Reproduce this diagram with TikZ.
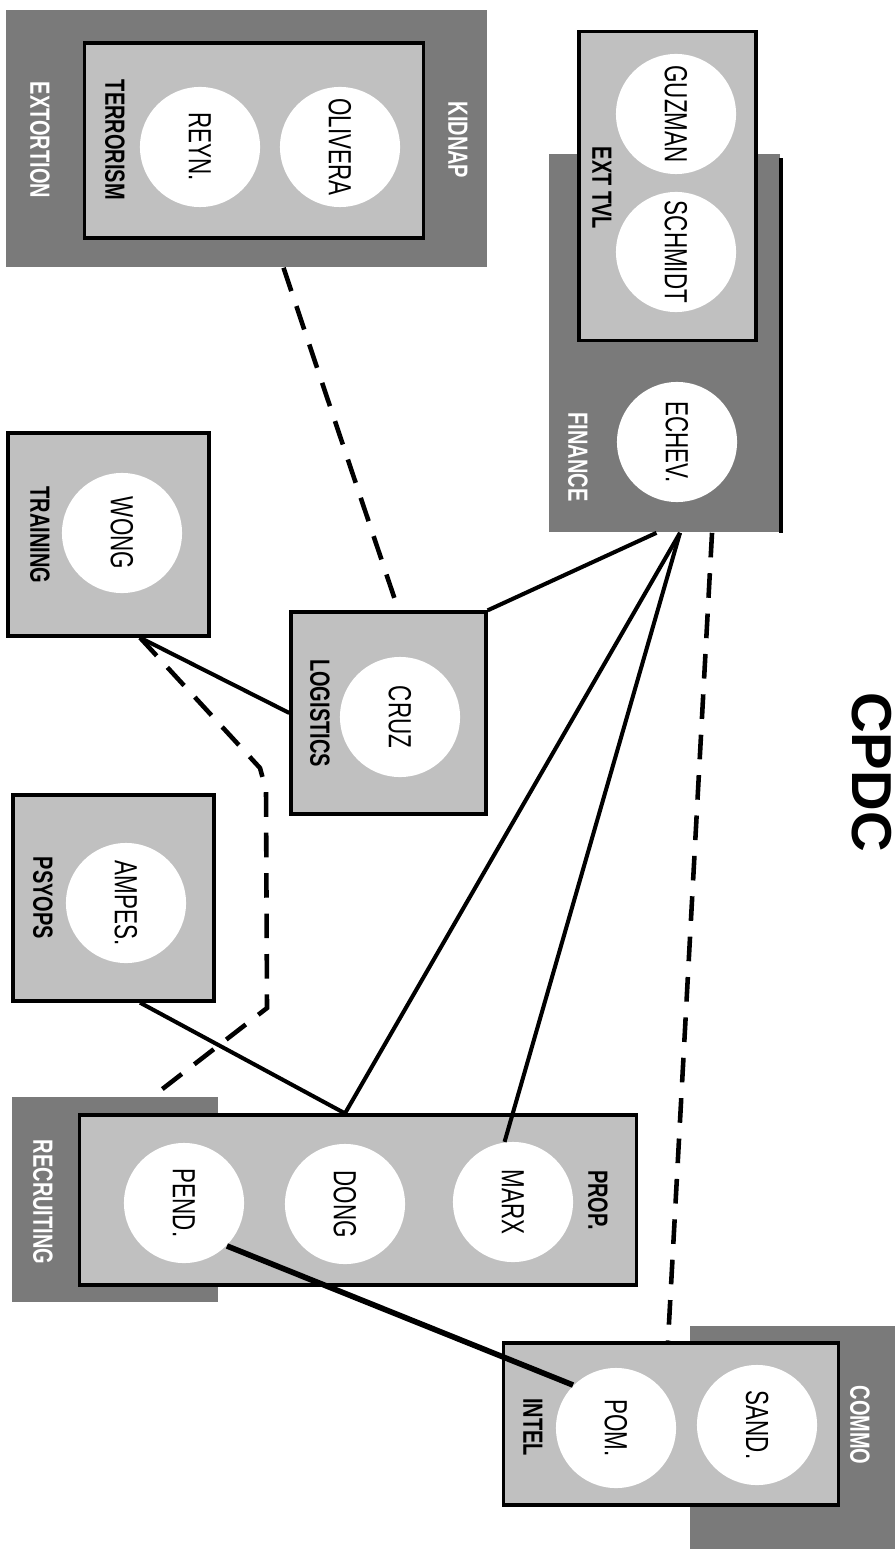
\documentclass[tikz,border=0pt]{standalone}
\usepackage{fontspec}
\setmainfont{Liberation Sans}
\newfontfamily\namefont[FakeStretch=0.7]{Liberation Sans}
\newfontfamily\deptfont[FakeStretch=0.72]{Liberation Sans}
\usepackage{tikz}
\definecolor{darkcell}{RGB}{122,122,122}
\definecolor{lightcell}{RGB}{192,192,192}
\tikzset{
	outerbox/.style={rectangle, fill=darkcell, draw=none, inner sep=0pt},
	innerbox/.style={rectangle, fill=lightcell, draw=black, line width=0.9pt, inner sep=0pt},
	person/.style={circle, fill=white, minimum size=1.2cm, inner sep=0pt, font=\namefont\fontsize{9.1}{10}\selectfont},
	deptname/.style={rotate=-90, inner sep=0pt, font=\deptfont\bfseries\fontsize{7.9}{9}\selectfont},
	deptwhite/.style={deptname, text=white},
	solidlink/.style={line width=1.15pt},
	dashlink/.style={line width=1.3pt, dash pattern=on 7pt off 4.5pt}
}
\newcommand{\dn}[1]{\rotatebox{-90}{#1}}
\begin{document}
\begin{tikzpicture}[x=0.01cm,y=-0.01cm]
			\useasboundingbox (0,0) rectangle (895,1549);
			\node[outerbox, minimum width=4.81cm, minimum height=2.57cm] (kidnap) at (246.5,138.5) {};
			\node[outerbox, minimum width=2.31cm, minimum height=3.78cm] (finance) at (664.5,343) {};
			\node[outerbox, minimum width=2.06cm, minimum height=2.05cm] (recruit) at (115,1199.5) {};
			\node[outerbox, minimum width=2.05cm, minimum height=2.23cm] (commo) at (792.5,1437.5) {};
			\draw[line width=1pt] ([yshift=-0.05cm]finance.north east) -- (finance.south east);
			
			\node[innerbox, minimum width=3.38cm, minimum height=1.95cm] (terror) at (254,140.5) {};
			\node[innerbox, minimum width=1.77cm, minimum height=3.08cm] (exttvl) at (667.5,186) {};
			\node[innerbox, minimum width=1.95cm, minimum height=2.02cm] (logist) at (388.5,713) {};
			\node[innerbox, minimum width=2.01cm, minimum height=2.03cm] (train) at (108.5,534.5) {};
			\node[innerbox, minimum width=2.01cm, minimum height=2.06cm] (psyops) at (113.5,898) {};
			\node[innerbox, minimum width=5.56cm, minimum height=1.70cm] (prop) at (358,1200) {};
			\node[innerbox, minimum width=3.34cm, minimum height=1.62cm] (intel) at (671,1424) {};
			
			\node[person] (reyn) at (200,147) {\dn{REYN.}};
			\node[person] (olivera) at (340,147) {\dn{OLIVERA}};
			\node[person] (guzman) at (676,114) {\dn{GUZMAN}};
			\node[person] (schmidt) at (676,252) {\dn{SCHMIDT}};
			\node[person] (echev) at (677,442) {\dn{ECHEV.}};
			\node[person] (cruz) at (400,717) {\dn{CRUZ}};
			\node[person] (wong) at (122,533) {\dn{WONG}};
			\node[person] (ampes) at (126,903) {\dn{AMPES.}};
			\node[person] (pend) at (184,1203) {\dn{PEND.}};
			\node[person] (dong) at (345,1204) {\dn{DONG}};
			\node[person] (marx) at (513,1202) {\dn{MARX}};
			\node[person] (pom) at (616,1428) {\dn{POM.}};
			\node[person] (sand) at (757,1425) {\dn{SAND.}};
			
			\node[deptwhite] (l-extort) at (40,140) {EXTORTION};
			\node[deptwhite] (l-kidnap) at (458,140) {KIDNAP};
			\node[deptname] (l-terror) at (115,140) {TERRORISM};
			\node[deptname] (l-exttvl) at (602,188) {EXT TVL};
			\node[deptwhite] (l-finance) at (578,457) {FINANCE};
			\node[deptname] (l-logist) at (320,713) {LOGISTICS};
			\node[deptname] (l-train) at (40,535) {TRAINING};
			\node[deptname] (l-psyops) at (43,898) {PSYOPS};
			\node[deptwhite] (l-recruit) at (43,1202) {RECRUITING};
			\node[deptname] (l-prop) at (598,1200) {PROP.};
			\node[deptname] (l-intel) at (533,1427) {INTEL};
			\node[deptwhite] (l-commo) at (860,1425) {COMMO};
			\node[rotate=-90, inner sep=0pt, font=\bfseries\fontsize{16}{18}\selectfont] (title) at (872,772) {CPDC};
			
			\coordinate (bendA) at (260,768);
			\coordinate (bendB) at (266,790);
			\coordinate (bendC) at (267,1008);
			\draw[dashlink] ([xshift=0.37cm]kidnap.south) -- ([xshift=0.1cm]logist.north);
			\draw[solidlink] ([xshift=-0.08cm]finance.south) -- (logist.north east);
			\draw[solidlink] ([xshift=0.155cm]finance.south) -- ([xshift=-0.13cm]prop.north);
			\draw[solidlink] ([xshift=0.155cm]finance.south) -- (marx.98);
			\draw[dashlink] ([xshift=0.475cm]finance.south) -- ([xshift=-0.03cm]intel.north);
			\draw[solidlink] (logist.west) -- ([xshift=0.315cm]train.south);
			\draw[dashlink] ([xshift=0.315cm]train.south) -- (bendA) -- (bendB) -- (bendC) -- ([xshift=0.38cm]recruit.north);
			\draw[solidlink] ([xshift=0.265cm]psyops.south) -- ([xshift=-0.13cm]prop.north);
			\draw[line width=1.6pt] (pend.-45) -- (pom.135);
		\end{tikzpicture}
\end{document}
